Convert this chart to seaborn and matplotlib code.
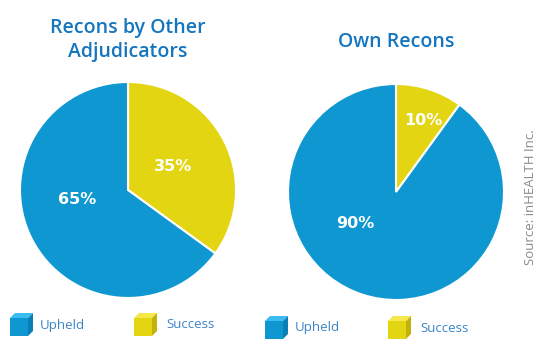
import numpy as np
import matplotlib
matplotlib.use("Agg")
import matplotlib.pyplot as plt
from matplotlib.patches import Polygon
import seaborn as sns

sns.set_theme(style="white")
plt.rcParams['font.family'] = ['Open Sans', 'DejaVu Sans']

# data
categories = ['Success', 'Upheld']
other_values = [35, 65]
own_values = [10, 90]
titles = ['Recons by Other\nAdjudicators', 'Own Recons']
source = 'Source: inHEALTH Inc.'

blue = '#0E97D1'
yellow = '#E4D513'
title_col = '#1576BF'
pal = {'Success': yellow, 'Upheld': blue}

fig = plt.figure(figsize=(5.5, 3.6), dpi=100)
W, H = 550, 360


def px_axes(cx, cy, r):
    return fig.add_axes([(cx - r) / W, (H - cy - r) / H, 2 * r / W, 2 * r / H])


def draw_pie(ax, vals, label_pos):
    ax.pie(vals, colors=[pal[c] for c in categories], startangle=90,
           counterclock=False,
           wedgeprops=dict(edgecolor='white', linewidth=1.5))
    for v, (lx, ly) in zip(vals, label_pos):
        ax.text(lx, ly, f'{v}%', ha='center', va='center',
                color='white', fontsize=11.5, fontweight='bold',
                family='DejaVu Sans')
    ax.set_aspect('equal')
    ax.set_xlim(-1.0, 1.0)
    ax.set_ylim(-1.0, 1.0)
    ax.axis('off')


ax1 = px_axes(128, 190, 108)
draw_pie(ax1, other_values, [(0.42, 0.22), (-0.47, -0.09)])
ax2 = px_axes(396, 192, 108)
draw_pie(ax2, own_values, [(0.25, 0.66), (-0.38, -0.29)])

fig.text(128 / W, 1 - 40 / H, titles[0], ha='center', va='center', fontsize=14,
         color=title_col, fontweight='semibold', linespacing=1.2)
fig.text(396 / W, 1 - 42 / H, titles[1], ha='center', va='center', fontsize=14,
         color=title_col, fontweight='semibold')

fig.text(531 / W, 1 - 197 / H, source, rotation=90, ha='center', va='center',
         fontsize=9.5, color='#8A8A8A')


def cube(x, y, col, dark, light, s=18, d=5):
    # x, y = bottom-left of front face in pixels (from top)
    def p(a, b):
        return (a / W, 1 - b / H)
    front = [p(x, y), p(x + s, y), p(x + s, y - s), p(x, y - s)]
    top = [p(x, y - s), p(x + s, y - s), p(x + s + d, y - s - d), p(x + d, y - s - d)]
    side = [p(x + s, y), p(x + s + d, y - d), p(x + s + d, y - s - d), p(x + s, y - s)]
    for pts, c in [(front, col), (top, light), (side, dark)]:
        fig.patches.append(Polygon(pts, closed=True, facecolor=c, edgecolor='none',
                                   transform=fig.transFigure, figure=fig))


legend_x = [(10, 40, 'Upheld', blue, '#0A7FB5', '#3BBBEF'),
            (134, 166, 'Success', yellow, '#C2B30A', '#F5E84A'),
            (265, 295, 'Upheld', blue, '#0A7FB5', '#3BBBEF'),
            (388, 420, 'Success', yellow, '#C2B30A', '#F5E84A')]
for i, (cx, tx, lab, c, dk, lt) in enumerate(legend_x):
    yb = 336 if i < 2 else 339
    cube(cx, yb, c, dk, lt)
    fig.text(tx / W, 1 - (yb - 11) / H, lab, ha='left', va='center', fontsize=9.5,
             color='#3A85C8')

fig.savefig('out.png', dpi=100)
